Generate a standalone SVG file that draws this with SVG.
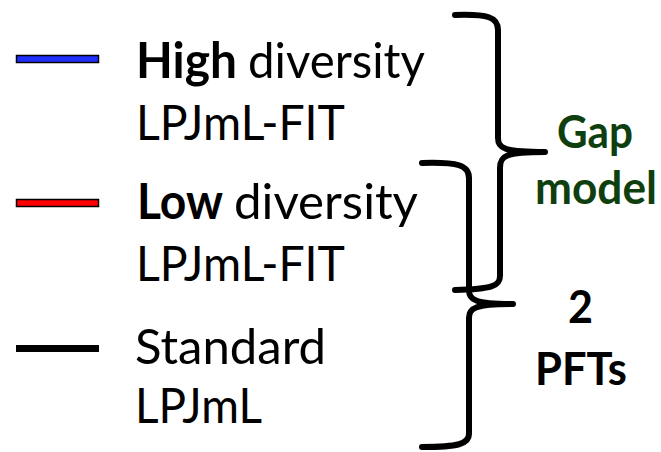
<svg xmlns="http://www.w3.org/2000/svg" width="661" height="452" viewBox="0 0 661 452">
<style>
.t{font-family:Lato,"Liberation Sans",sans-serif;font-size:49px;fill:#000}
.b{font-weight:bold}
.g{font-family:Lato,"Liberation Sans",sans-serif;font-size:45px;font-weight:bold;fill:#0f3f0f}
.k{font-family:Lato,"Liberation Sans",sans-serif;font-size:45px;font-weight:bold;fill:#000}
.br{fill:none;stroke:#000;stroke-width:6;stroke-linecap:round;stroke-linejoin:round}
</style>
<rect width="661" height="452" fill="#fff"/>
<g id="legend-high">
<rect x="16.5" y="55.5" width="82" height="7" fill="#1f2fff" stroke="#000" stroke-width="1.5"/>
<text class="t b" x="136" y="78" textLength="101" lengthAdjust="spacingAndGlyphs">High</text>
<text class="t" x="248" y="78" textLength="177" lengthAdjust="spacingAndGlyphs">diversity</text>
<text class="t" x="136" y="140" textLength="209" lengthAdjust="spacingAndGlyphs">LPJmL-FIT</text>
</g>
<g id="legend-low">
<rect x="16.5" y="199.5" width="82" height="7" fill="#ff0000" stroke="#000" stroke-width="1.5"/>
<text class="t b" x="137" y="219" textLength="86" lengthAdjust="spacingAndGlyphs">Low</text>
<text class="t" x="234" y="219" textLength="184" lengthAdjust="spacingAndGlyphs">diversity</text>
<text class="t" x="136" y="281" textLength="209" lengthAdjust="spacingAndGlyphs">LPJmL-FIT</text>
</g>
<g id="legend-standard">
<rect x="16" y="345" width="83" height="7" fill="#000"/>
<text class="t" x="135" y="364" textLength="191" lengthAdjust="spacingAndGlyphs">Standard</text>
<text class="t" x="135" y="423" textLength="127" lengthAdjust="spacingAndGlyphs">LPJmL</text>
</g>
<g id="connectors">
<path class="br" d="M455,15 C488,14 498,17 498,30 L498,138 C498,148 503,152 545,152 C505,152 500,156 500,168 L500,276 C500,286 492,289 455,290"/>
<path class="br" d="M422,163 C458,162 469,165 469,178 L469,290 C469,300 475,304 513,304 C475,304 469,308 469,318 L469,434 C469,444 458,447 422,447"/>
</g>
<g id="label-gap">
<text class="g" x="557" y="148" textLength="76" lengthAdjust="spacingAndGlyphs">Gap</text>
<text class="g" x="535" y="204" textLength="122" lengthAdjust="spacingAndGlyphs">model</text>
</g>
<g id="label-pfts">
<text class="k" x="568" y="323" textLength="25" lengthAdjust="spacingAndGlyphs">2</text>
<text class="k" x="535" y="385" textLength="92" lengthAdjust="spacingAndGlyphs">PFTs</text>
</g>
</svg>
